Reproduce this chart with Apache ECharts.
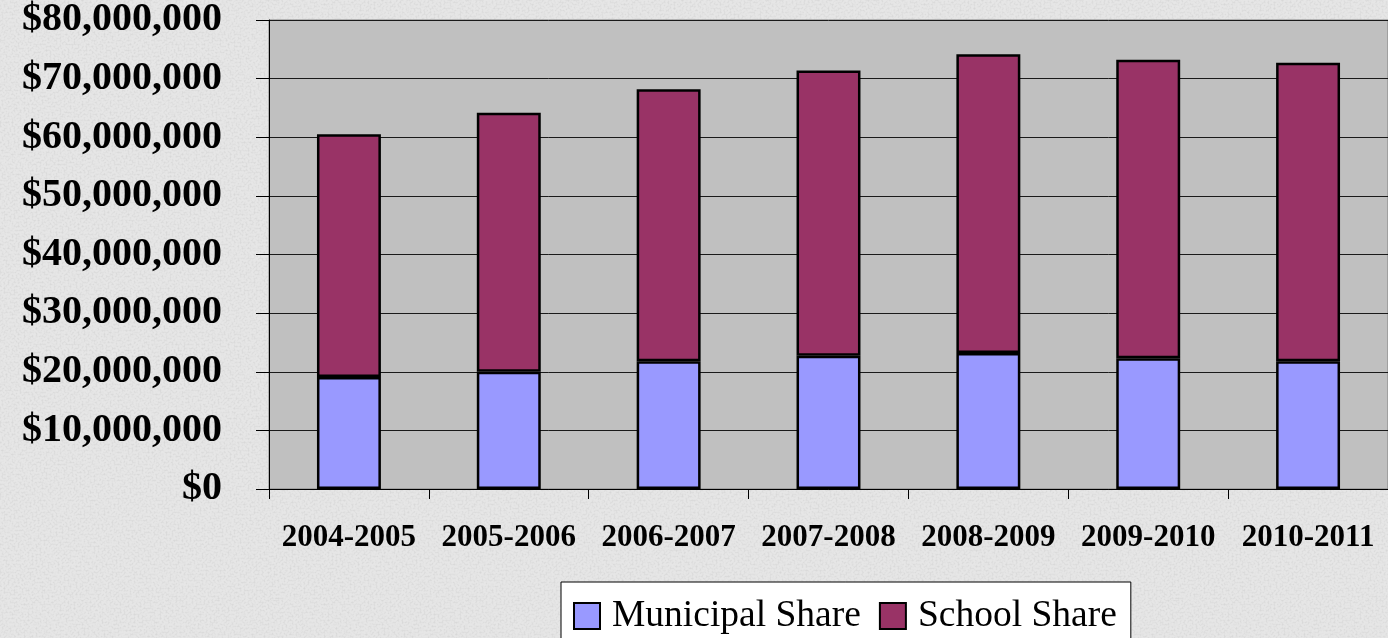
<!DOCTYPE html>
<html>
<head>
<meta charset="utf-8">
<script src="https://cdn.jsdelivr.net/npm/echarts@6/dist/echarts.min.js"></script>
<style>
html, body { margin: 0; padding: 0; }
body {
  width: 1388px; height: 638px; overflow: hidden;
  background-color: #e6e6e6;
  background-image: url("data:image/svg+xml;utf8,<svg xmlns='http://www.w3.org/2000/svg' width='300' height='300'><filter id='n'><feTurbulence type='fractalNoise' baseFrequency='0.5' numOctaves='2' seed='7' stitchTiles='stitch'/><feColorMatrix type='matrix' values='0 0 0 0 0.6 0 0 0 0 0.6 0 0 0 0 0.6 0 0 0 1.3 -0.55'/></filter><rect width='300' height='300' filter='url(%23n)'/></svg>");
}
#chart { width: 1388px; height: 638px; }
</style>
</head>
<body>
<div id="chart"></div>
<script>
const categories = ['2004-2005', '2005-2006', '2006-2007', '2007-2008', '2008-2009', '2009-2010', '2010-2011'];
const municipalShare = [19100000, 20000000, 21800000, 22750000, 23200000, 22300000, 21800000];
const schoolShare = [41400000, 44200000, 46400000, 48650000, 50950000, 50900000, 50900000];
const seriesNames = ['Municipal Share', 'School Share'];
const yMin = 0, yMax = 80000000, yInterval = 10000000;

const chart = echarts.init(document.getElementById('chart'), null, { renderer: 'canvas' });
const serif = '"Liberation Serif", "Times New Roman", serif';

chart.setOption({
  backgroundColor: 'transparent',
  animation: false,
  grid: {
    left: 269, top: 19, width: 1130, height: 470,
    show: true, backgroundColor: '#c0c0c0', borderColor: '#808080', borderWidth: 1
  },
  legend: {
    left: 561, top: 582,
    data: seriesNames,
    orient: 'horizontal',
    icon: 'rect',
    backgroundColor: '#ffffff',
    borderColor: '#000000',
    borderWidth: 1,
    borderRadius: 0,
    padding: [15, 14, 30, 12],
    itemWidth: 26, itemHeight: 26, itemGap: 18,
    textStyle: { fontFamily: serif, fontSize: 37.5, color: '#000', padding: [0, 0, 0, 7] }
  },
  xAxis: {
    type: 'category',
    data: categories,
    boundaryGap: true,
    axisLine: { show: true, lineStyle: { color: '#000', width: 1 } },
    axisTick: { show: true, length: 10, inside: false, lineStyle: { color: '#000' } },
    axisLabel: { fontFamily: serif, fontWeight: 'bold', fontSize: 31, color: '#000', margin: 33, interval: 0 }
  },
  yAxis: {
    type: 'value',
    min: yMin, max: yMax, interval: yInterval,
    axisLine: { show: true, lineStyle: { color: '#000', width: 1 } },
    axisTick: { show: true, length: 13, inside: false, lineStyle: { color: '#000' } },
    splitLine: { show: true, lineStyle: { color: '#1a1a1a', width: 1 } },
    axisLabel: {
      fontFamily: serif, fontWeight: 'bold', fontSize: 40, color: '#000', margin: 47,
      formatter: v => '$' + v.toLocaleString('en-US')
    }
  },
  series: [
    {
      name: seriesNames[0], type: 'bar', stack: 'total', barWidth: '40%',
      data: municipalShare,
      itemStyle: { color: '#9999ff', borderColor: '#000', borderWidth: 2.5 }
    },
    {
      name: seriesNames[1], type: 'bar', stack: 'total', barWidth: '40%',
      data: schoolShare,
      itemStyle: { color: '#993366', borderColor: '#000', borderWidth: 2.5 }
    }
  ]
});
</script>
</body>
</html>
